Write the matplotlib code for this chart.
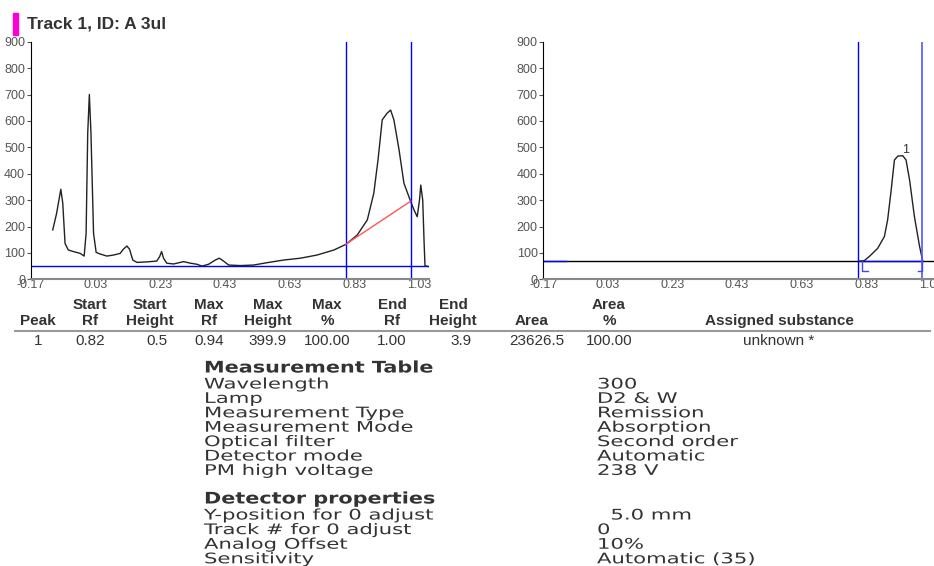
import matplotlib
matplotlib.use("Agg")
import matplotlib.pyplot as plt
from matplotlib.patches import Rectangle
from matplotlib.patheffects import AbstractPathEffect
from matplotlib.transforms import Affine2D

# --- densitogram, raw scan (left panel) ---
scan_rf = [-0.102, -0.090, -0.077, -0.071, -0.064, -0.054, -0.038, -0.017, -0.005, 0.001,
           0.006, 0.011, 0.016, 0.024, 0.032, 0.044, 0.065, 0.086, 0.106, 0.116,
           0.127, 0.135, 0.145, 0.158, 0.189, 0.219, 0.228, 0.234, 0.240, 0.250,
           0.271, 0.302, 0.323, 0.343, 0.359, 0.379, 0.400, 0.412, 0.423, 0.441,
           0.477, 0.518, 0.560, 0.611, 0.663, 0.714, 0.766, 0.804, 0.838, 0.869,
           0.889, 0.902, 0.915, 0.930, 0.941, 0.951, 0.967, 0.982, 1.003, 1.013,
           1.023, 1.030, 1.034, 1.040, 1.044, 1.047, 1.059]
scan_val = [187, 250, 341, 288, 136, 111, 105, 98, 88, 174,
            553, 700, 553, 174, 102, 96, 88, 92, 98, 114,
            126, 114, 73, 64, 66, 69, 86, 105, 80, 61,
            58, 67, 61, 57, 50, 57, 73, 80, 71, 54,
            52, 54, 63, 73, 80, 92, 111, 133, 168, 225,
            326, 452, 604, 629, 641, 604, 490, 364, 294, 263,
            237, 300, 357, 300, 149, 51, 48]

# --- integrated peak (right panel) ---
peak_rf = [0.808, 0.824, 0.839, 0.865, 0.886, 0.896, 0.907, 0.917, 0.928, 0.943,
           0.953, 0.964, 0.979, 0.995, 1.005]
peak_val = [68, 71, 86, 117, 162, 225, 338, 452, 467, 468, 452, 376, 237, 124, 67]

start_rf, end_rf = 0.803, 1.003
left_base = 50
base_start, base_end = 133, 296
right_base = 68
label_pos = (0.953, 490)

tick_pos = [-0.17, 0.03, 0.23, 0.43, 0.63, 0.83, 1.03]
tick_lab = ["-0.17", "0.03", "0.23", "0.43", "0.63", "0.83", "1.03"]
y_ticks = [0, 100, 200, 300, 400, 500, 600, 700, 800, 900]

# --- peak table ---
head1 = ["", "Start", "Start", "Max", "Max", "Max", "End", "End", "", "Area", ""]
head2 = ["Peak", "Rf", "Height", "Rf", "Height", "%", "Rf", "Height", "Area", "%", "Assigned substance"]
row1 = ["1", "0.82", "0.5", "0.94", "399.9", "100.00", "1.00", "3.9", "23626.5", "100.00", "unknown *"]
col_x = [38, 90, 150, 209, 268, 327, 392, 453, 532, 609, 779]
row_x = [38, 90, 157, 209, 268, 327, 392, 461, 537, 609, 779]

# --- measurement parameters ---
meas_names = ["Wavelength", "Lamp", "Measurement Type", "Measurement Mode",
              "Optical filter", "Detector mode", "PM high voltage"]
meas_values = ["300", "D2 & W", "Remission", "Absorption", "Second order", "Automatic", "238 V"]
det_names = ["Y-position for 0 adjust", "Track # for 0 adjust", "Analog Offset", "Sensitivity"]
det_values = ["  5.0 mm", "0", "10%", "Automatic (35)"]

W, H = 934, 566
plt.rcParams['font.family'] = ['Liberation Sans', 'DejaVu Sans']
fig = plt.figure(figsize=(W / 100, H / 100), dpi=100)
fig.patch.set_facecolor("white")

gray = "#555555"
dark = "#333333"


class StretchX(AbstractPathEffect):
    """Widen glyphs horizontally around a fixed pixel x."""

    def __init__(self, sx, x0):
        super().__init__()
        self.sx = sx
        self.x0 = x0

    def draw_path(self, renderer, gc, tpath, affine, rgbFace=None):
        t = affine + Affine2D().translate(-self.x0, 0).scale(self.sx, 1).translate(self.x0, 0)
        renderer.draw_path(gc, tpath, t, rgbFace)


def px(x, y):
    return x / W, 1 - y / H


def style_axes(ax):
    ax.set_xlim(-0.17, 1.06)
    ax.set_ylim(0, 900)
    ax.set_xticks(tick_pos)
    ax.set_xticklabels(tick_lab)
    ax.set_yticks(y_ticks)
    for s in ["top", "right"]:
        ax.spines[s].set_visible(False)
    ax.spines["left"].set_color("black")
    ax.spines["bottom"].set_color("#888888")
    ax.spines["bottom"].set_linewidth(1.5)
    ax.tick_params(axis="both", labelsize=9, labelcolor=gray, length=3, pad=1, color=gray)
    ax.tick_params(axis="x", length=0, pad=0)
    ax.set_facecolor("none")


# left panel
ax1 = fig.add_axes([30.7 / W, 1 - 279.3 / H, 398.5 / W, 237.6 / H])
style_axes(ax1)
ax1.plot(scan_rf, scan_val, color="#222222", lw=1.0)
ax1.axhline(left_base, color="blue", lw=1)
ax1.axvline(start_rf, color="blue", lw=1)
ax1.axvline(end_rf, color="blue", lw=1)
ax1.plot([start_rf, end_rf], [base_start, base_end], color="#ff5555", lw=1)

# right panel
ax2 = fig.add_axes([543.3 / W, 1 - 279.3 / H, 397.3 / W, 237.6 / H])
style_axes(ax2)
ax2.axhline(right_base, color="black", lw=1)
ax2.plot([-0.17, -0.10], [right_base, right_base], color="blue", lw=1)
ax2.plot([start_rf, end_rf], [right_base, right_base], color="blue", lw=1)
ax2.plot(peak_rf, peak_val, color="#222222", lw=1.0)
ax2.axvline(start_rf, color="blue", lw=1)
ax2.axvline(end_rf, color="#5555ff", lw=1.2)
ax2.plot([0.818, 0.818, 0.836], [right_base, 32, 32], color="#4444ff", lw=1)
ax2.plot([0.990, 1.003, 1.003], [32, 32, right_base], color="#4444ff", lw=1)
ax2.text(label_pos[0], label_pos[1], "1", fontsize=9, color=dark, ha="center", va="center")

# title
fig.patches.append(Rectangle(px(13, 35), 5 / W, 22 / H, transform=fig.transFigure,
                             color="#ff00cc", zorder=5))
fig.text(*px(27, 24), "Track 1, ID: A 3ul", fontsize=12.5, fontweight="bold",
         color=dark, va="center", ha="left")

# peak table
for x, h1, h2 in zip(col_x, head1, head2):
    if h1:
        fig.text(*px(x, 305), h1, fontsize=11, fontweight="bold", ha="center", va="center",
                 color=dark)
    fig.text(*px(x, 321), h2, fontsize=11, fontweight="bold", ha="center", va="center",
             color=dark)
for x, v in zip(row_x, row1):
    fig.text(*px(x, 341), v, fontsize=11, ha="center", va="center", color=dark)
fig.add_artist(plt.Line2D([15 / W, 930 / W], [1 - 331 / H, 1 - 331 / H], color="#999999", lw=1.5))


# measurement table
def wide_text(x, y, s, bold=False):
    size = 11.5 if bold else 10.5
    sx = 1.3 if bold else 1.45
    fig.text(*px(x, y), s, fontsize=size, fontweight="bold" if bold else "normal",
             color=dark, ha="left", va="center", family=['DejaVu Sans'],
             path_effects=[StretchX(sx, x)])


wide_text(204, 368, "Measurement Table", bold=True)
for i, (n, v) in enumerate(zip(meas_names, meas_values)):
    y = 384 + i * 14.4
    wide_text(204, y, n)
    wide_text(597, y, v)
wide_text(204, 499, "Detector properties", bold=True)
for i, (n, v) in enumerate(zip(det_names, det_values)):
    y = 515 + i * 14.6
    wide_text(204, y, n)
    wide_text(597, y, v)

fig.savefig("out.png", dpi=100)
